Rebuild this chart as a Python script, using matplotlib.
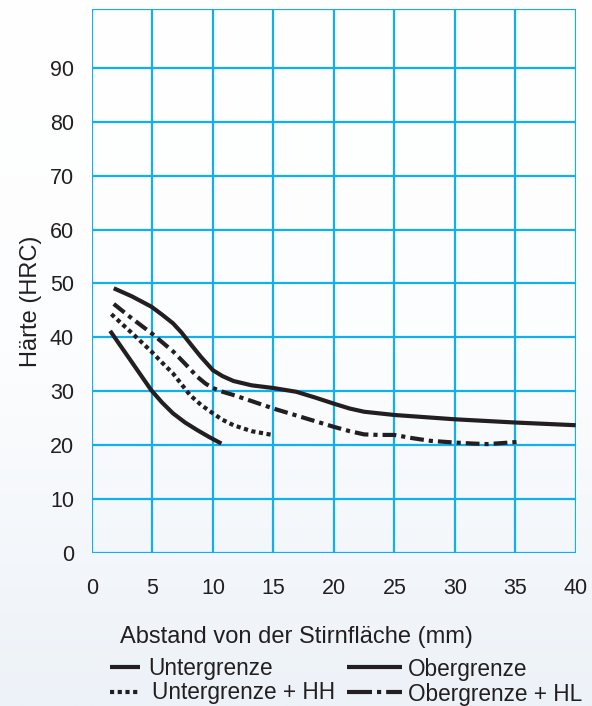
import numpy as np
import matplotlib
matplotlib.use("Agg")
import matplotlib.pyplot as plt
from matplotlib.lines import Line2D
from matplotlib.colors import LinearSegmentedColormap

plt.rcParams['font.family'] = ['Liberation Sans', 'DejaVu Sans']

# Data (distance mm, hardness HRC)
ober_x = [1.8, 3.3, 4.9, 5.8, 6.7, 7.4, 8.1, 9.0, 10.0, 10.8, 11.7, 13.2, 15.0, 16.9, 18.5, 20.0, 21.3, 22.5, 25.0, 27.5, 30.0, 35.0, 40.0]
ober_y = [49.1, 47.6, 45.7, 44.2, 42.6, 40.9, 38.9, 36.4, 33.9, 32.8, 31.9, 31.1, 30.6, 29.9, 28.8, 27.7, 26.8, 26.2, 25.6, 25.2, 24.8, 24.2, 23.7]

oberhl_x = [1.8, 3.3, 4.9, 5.8, 6.7, 7.7, 8.7, 9.4, 10.0, 10.8, 11.7, 13.3, 15.0, 17.2, 20.0, 21.3, 22.5, 23.7, 25.0, 26.5, 28.0, 29.9, 31.5, 32.7, 34.0, 35.2]
oberhl_y = [46.2, 43.5, 40.8, 39.1, 37.4, 35.1, 32.7, 31.4, 30.6, 29.9, 29.3, 28.1, 26.8, 25.3, 23.4, 22.6, 22.0, 21.9, 21.9, 21.3, 20.8, 20.5, 20.3, 20.2, 20.4, 20.6]

unterhh_x = [1.6, 3.3, 4.9, 5.8, 6.7, 7.4, 8.1, 9.0, 10.0, 10.8, 11.7, 13.2, 14.9]
unterhh_y = [44.3, 40.8, 37.4, 35.3, 33.3, 31.3, 29.3, 27.5, 25.9, 24.7, 23.7, 22.6, 21.9]

unter_x = [1.5, 3.2, 4.9, 5.8, 6.7, 7.7, 8.7, 9.7, 10.7]
unter_y = [41.2, 35.7, 30.2, 27.9, 25.9, 24.2, 22.8, 21.5, 20.3]

x_ticks = [0, 5, 10, 15, 20, 25, 30, 35, 40]
y_ticks = [0, 10, 20, 30, 40, 50, 60, 70, 80, 90]

W, H = 592, 706
fig = plt.figure(figsize=(W / 100, H / 100), dpi=100)

# background gradient
bg = fig.add_axes([0, 0, 1, 1], zorder=-10)
grad = np.linspace(0, 1, 256).reshape(-1, 1)
cmap = LinearSegmentedColormap.from_list('bg', ['#ffffff', '#fcfdfe', '#edf2f8'])
bg.imshow(grad, aspect='auto', cmap=cmap, extent=[0, 1, 0, 1], origin='upper')
bg.set_axis_off()

y_top = 100.9
ax = fig.add_axes([92 / W, 1 - 553 / H, (575.7 - 92) / W, (553 - 9) / H])
ax.set_facecolor('none')
ax.set_xlim(0, 40)
ax.set_ylim(0, y_top)

grid_c = '#10b0ee'
for xv in np.arange(0, 41, 5):
    ax.axvline(xv, color=grid_c, lw=1.6, zorder=1)
for yv in list(np.arange(0, 91, 10)) + [y_top]:
    ax.axhline(yv, color=grid_c, lw=1.6, zorder=1)
for s in ax.spines.values():
    s.set_visible(False)

ax.set_xticks(x_ticks)
ax.set_yticks(y_ticks)
ax.tick_params(length=0, labelsize=15.5, colors='#231f20')
ax.tick_params(axis='x', pad=18)
ax.tick_params(axis='y', pad=13)

lc = '#231f20'
lw = 3.0
ax.plot(ober_x, ober_y, color=lc, lw=lw, solid_capstyle='butt', zorder=3)
ax.plot(unter_x, unter_y, color=lc, lw=lw, solid_capstyle='butt', zorder=3)
ax.plot(unterhh_x, unterhh_y, color=lc, lw=lw, linestyle=(0, (1.0, 0.85)), dash_capstyle='butt', zorder=3)
ax.plot(oberhl_x, oberhl_y, color=lc, lw=lw, linestyle=(0, (3.3, 1.2, 1.0, 1.2)), dash_capstyle='butt', zorder=3)

# axis labels
fig.text(120 / W, 1 - 643 / H, 'Abstand von der Stirnfläche (mm)', fontsize=17, color=lc, ha='left', va='baseline')
fig.text(31 / W, 1 - 301 / H, 'Härte (HRC)', fontsize=17, color=lc, ha='center', va='center', rotation=90)

# legend
def leg_line(x0, x1, y, ls):
    fig.add_artist(Line2D([x0 / W, x1 / W], [1 - y / H, 1 - y / H], color=lc, lw=3.0,
                          linestyle=ls, solid_capstyle='butt', dash_capstyle='butt'))

fs_leg = 16.3
leg_line(110, 140, 667, '-')
fig.text(148 / W, 1 - 675 / H, 'Untergrenze', fontsize=fs_leg, color=lc, ha='left', va='baseline')
leg_line(110, 140, 692, (0, (1.0, 0.85)))
fig.text(152 / W, 1 - 699 / H, 'Untergrenze + HH', fontsize=fs_leg, color=lc, ha='left', va='baseline')
leg_line(347, 402, 667, '-')
fig.text(408 / W, 1 - 676 / H, 'Obergrenze', fontsize=fs_leg, color=lc, ha='left', va='baseline')
leg_line(347, 402, 692, (0, (6.0, 1.2, 1.0, 1.2)))
fig.text(408 / W, 1 - 701 / H, 'Obergrenze + HL', fontsize=fs_leg, color=lc, ha='left', va='baseline')

fig.savefig('out.png', dpi=100)
